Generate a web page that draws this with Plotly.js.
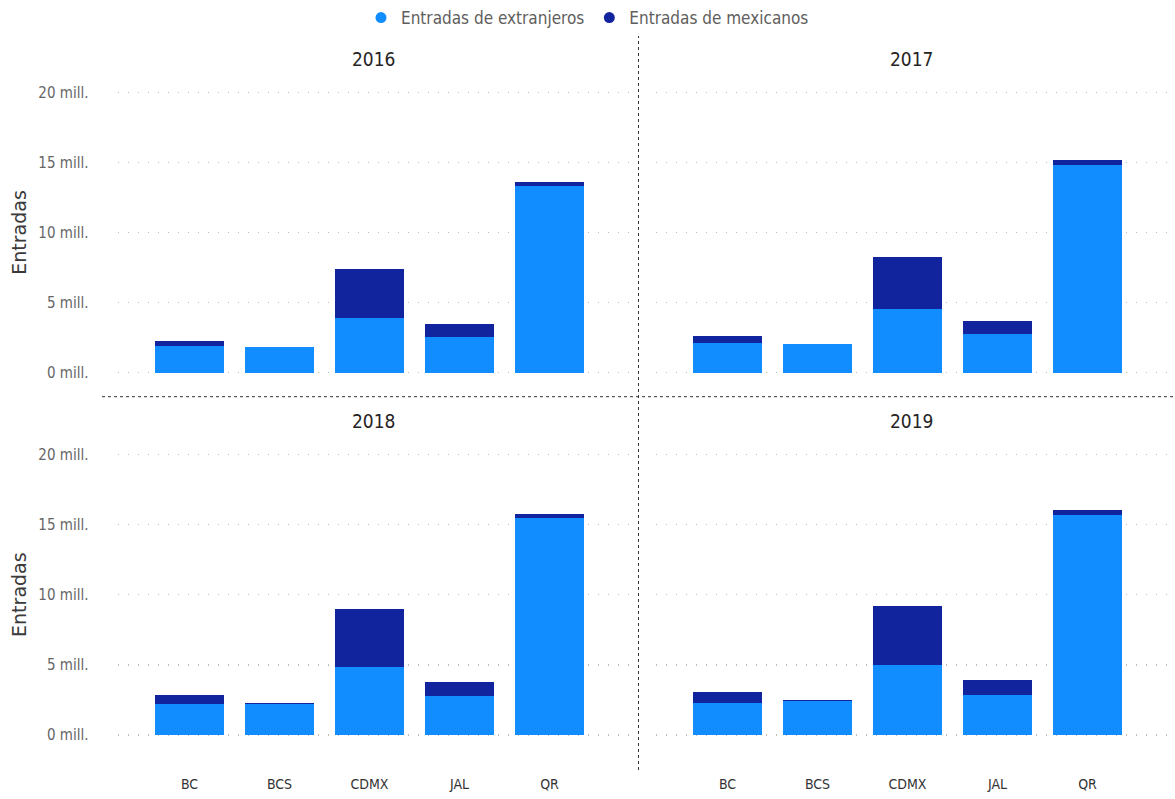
<!DOCTYPE html>
<html>
<head>
<meta charset="utf-8">
<script src="https://cdn.plot.ly/plotly-3.0.1.min.js"></script>
<style>
html,body{margin:0;padding:0;background:#fff;}
#chart{width:1175px;height:799px;}
</style>
</head>
<body>
<div id="chart"></div>
<script>
// Values in millions of entries
const categories = ['BC', 'BCS', 'CDMX', 'JAL', 'QR'];
const years = ['2016', '2017', '2018', '2019'];
const seriesNames = ['Entradas de extranjeros', 'Entradas de mexicanos'];

const extranjeros2016 = [1.93, 1.81, 3.93, 2.53, 13.33];
const mexicanos2016   = [0.33, 0.02, 3.47, 0.95, 0.27];
const extranjeros2017 = [2.14, 2.05, 4.57, 2.73, 14.84];
const mexicanos2017   = [0.48, 0.02, 3.71, 0.93, 0.31];
const extranjeros2018 = [2.23, 2.23, 4.87, 2.80, 15.46];
const mexicanos2018   = [0.64, 0.02, 4.13, 1.00, 0.31];
const extranjeros2019 = [2.30, 2.45, 4.99, 2.83, 15.68];
const mexicanos2019   = [0.74, 0.02, 4.20, 1.07, 0.33];

const yTickVals = [0, 5, 10, 15, 20];
const yTickText = ['0 mill.', '5 mill.', '10 mill.', '15 mill.', '20 mill.'];
const yTitle = 'Entradas';

const extByYear = [extranjeros2016, extranjeros2017, extranjeros2018, extranjeros2019];
const mexByYear = [mexicanos2016, mexicanos2017, mexicanos2018, mexicanos2019];

const colExt = '#118DFF';
const colMex = '#12239E';
const W = 1175, H = 799;
const narrow = 'DejaVu Sans Condensed, Roboto, Liberation Sans, sans-serif';

const axSuffix = ['', '2', '3', '4'];
const traces = [];
years.forEach((yr, i) => {
  const s = axSuffix[i];
  traces.push({
    type: 'bar', x: categories, y: extByYear[i], name: seriesNames[0],
    xaxis: 'x' + s, yaxis: 'y' + s, marker: {color: colExt, line: {width: 0}},
    showlegend: false, legendgroup: 'ext', hoverinfo: 'x+y+name'
  });
  traces.push({
    type: 'bar', x: categories, y: mexByYear[i], name: seriesNames[1],
    xaxis: 'x' + s, yaxis: 'y' + s, marker: {color: colMex, line: {width: 0}},
    showlegend: false, legendgroup: 'mex', hoverinfo: 'x+y+name'
  });
});
// legend entries (circle markers)
traces.push({type: 'scatter', mode: 'markers', x: [null], y: [null], name: seriesNames[0],
  marker: {color: colExt, size: 11, symbol: 'circle'}, showlegend: true, legendgroup: 'ext'});
traces.push({type: 'scatter', mode: 'markers', x: [null], y: [null], name: seriesNames[1],
  marker: {color: colMex, size: 11, symbol: 'circle'}, showlegend: true, legendgroup: 'mex'});

const tickFont = {family: narrow, size: 15, color: '#666666'};
const xTickFont = {family: narrow, size: 14, color: '#333333'};

const pad = 0.2, ppu = 14.02;
const colDom = [[117.5 / W, 630.5 / W], [655.5 / W, 1168.5 / W]];
const rowDom = [[1 - (372.7 + pad * ppu) / H, 1 - (92.3 - pad * ppu) / H],
                [1 - (735 + pad * ppu) / H, 1 - (454.3 - pad * ppu) / H]];

const layout = {
  width: W, height: H,
  margin: {l: 0, r: 0, t: 0, b: 0, autoexpand: false},
  paper_bgcolor: '#ffffff', plot_bgcolor: '#ffffff',
  barmode: 'stack', bargap: 0.233,
  showlegend: true,
  legend: {orientation: 'h', x: 0.5, xanchor: 'center', yref: 'container', y: 1, yanchor: 'top',
    font: {family: narrow, size: 17, color: '#605E5C'},
    itemwidth: 30, tracegroupgap: 0, bgcolor: 'rgba(0,0,0,0)'},
  annotations: [],
  shapes: [
    {type: 'line', xref: 'paper', yref: 'paper', x0: 638.5 / W, x1: 638.5 / W, y0: 1 - 770 / H, y1: 1 - 36 / H,
      line: {color: '#333333', width: 1, dash: 'dot'}},
    {type: 'line', xref: 'paper', yref: 'paper', x0: 102 / W, x1: 1, y0: 1 - 396.7 / H, y1: 1 - 396.7 / H,
      line: {color: '#333333', width: 1, dash: 'dot'}}
  ]
};

years.forEach((yr, i) => {
  const s = axSuffix[i];
  const col = i % 2, row = Math.floor(i / 2);
  const showY = col === 0;
  const showX = row === 1;
  layout['xaxis' + s] = {
    domain: colDom[col], anchor: 'y' + s, type: 'category',
    categoryorder: 'array', categoryarray: categories,
    range: [-0.8, 4.9], showgrid: false, zeroline: false, showline: false,
    ticks: '', showticklabels: showX, tickfont: xTickFont, ticklabelstandoff: 36,
    fixedrange: true
  };
  layout['yaxis' + s] = {
    domain: rowDom[row], anchor: 'x' + s, range: [-pad, 20 + pad],
    tickmode: 'array', tickvals: yTickVals, ticktext: yTickText, showticklabels: showY,
    tickfont: tickFont, ticklabelstandoff: 28,
    showgrid: true, gridcolor: '#BDBDBD', griddash: '1px,9px', gridwidth: 1.5,
    zeroline: false, showline: false, ticks: '', fixedrange: true,
    title: showY ? {text: yTitle, standoff: 6,
      font: {family: 'DejaVu Sans, sans-serif', size: 19, color: '#3a3a3a'}} : {text: ''}
  };
  layout.annotations.push({
    text: yr, xref: 'paper', yref: 'paper',
    x: (col === 0 ? 374 : 912) / W, y: 1 - (row === 0 ? 59 : 421) / H,
    xanchor: 'center', yanchor: 'middle', showarrow: false,
    font: {family: narrow, size: 19, color: '#252423'}
  });
});

Plotly.newPlot('chart', traces, layout, {displayModeBar: false, staticPlot: true});
</script>
</body>
</html>
